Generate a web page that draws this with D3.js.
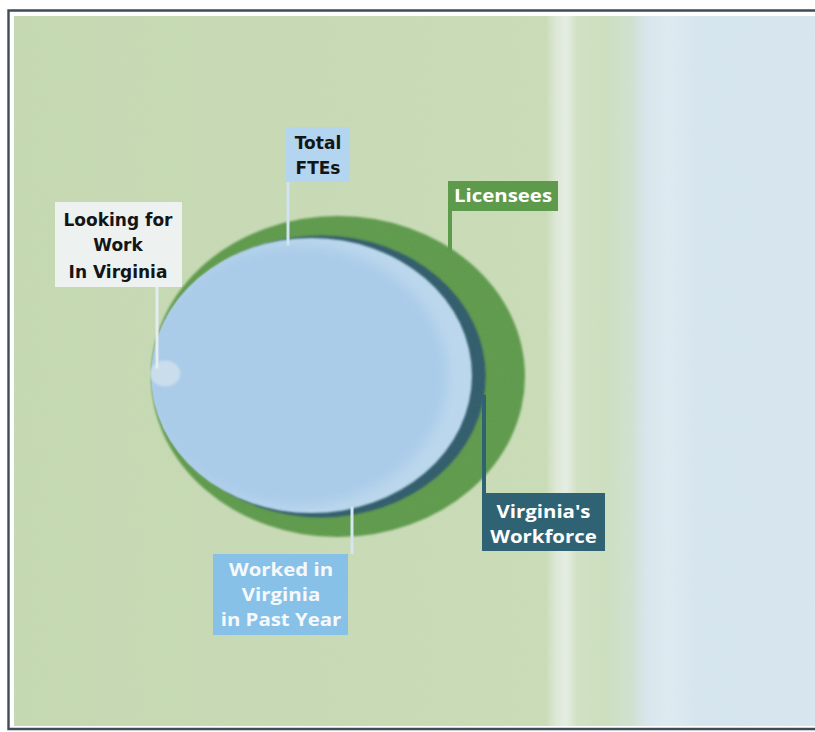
<!DOCTYPE html>
<html>
<head>
<meta charset="utf-8">
<script src="https://cdn.jsdelivr.net/npm/d3@7"></script>
<style>
  html, body { margin: 0; padding: 0; background: #ffffff; }
  svg { display: block; }
</style>
</head>
<body>
<svg id="chart" width="815" height="732"></svg>
<script>
// Nested workforce groups, outermost first; sizes are relative (Licensees = 100)
const groups = ["Licensees", "Virginia's Workforce", "Worked in Virginia in Past Year", "Total FTEs", "Looking for Work in Virginia"];
const relativeSize = [100, 87.9, 85.7, 81.5, 8.1];

// Callout text, one entry per line
const labelLines = {
  "Licensees": ["Licensees"],
  "Virginia's Workforce": ["Virginia's", "Workforce"],
  "Worked in Virginia in Past Year": ["Worked in", "Virginia", "in Past Year"],
  "Total FTEs": ["Total", "FTEs"],
  "Looking for Work in Virginia": ["Looking for", "Work", "In Virginia"]
};

const svg = d3.select("#chart");
const W = 815, H = 732;

// ---------- frame and background ----------
const defs = svg.append("defs");
const bg = defs.append("linearGradient").attr("id", "bgGrad")
  .attr("gradientUnits", "userSpaceOnUse").attr("x1", 14).attr("x2", 815).attr("y1", 0).attr("y2", 0);
[[14, "#c3d7b0"], [300, "#c6d9b3"], [546, "#c8dbb5"], [556, "#dce7d6"], [566, "#e4ece1"],
 [577, "#d0e0c3"], [605, "#cbdebd"], [632, "#cfe0cf"], [646, "#d6e5ec"], [668, "#dde9f0"],
 [700, "#d4e4ed"], [815, "#d6e5ee"]].forEach(([x, c]) => {
  bg.append("stop").attr("offset", ((x - 14) / (815 - 14)) * 100 + "%").attr("stop-color", c);
});

const soft = defs.append("filter").attr("id", "soft").attr("x", "-5%").attr("y", "-5%").attr("width", "110%").attr("height", "110%");
soft.append("feGaussianBlur").attr("stdDeviation", 0.8);

const fade = defs.append("filter").attr("id", "fade").attr("x", "-10%").attr("y", "-10%").attr("width", "120%").attr("height", "120%");
fade.append("feGaussianBlur").attr("stdDeviation", 6);

// fine paper grain, kept inside the shape it is applied to
const grain = defs.append("filter").attr("id", "grain");
grain.append("feTurbulence").attr("type", "fractalNoise").attr("baseFrequency", 0.9).attr("numOctaves", 2).attr("seed", 3).attr("result", "n");
grain.append("feColorMatrix").attr("in", "n").attr("type", "matrix")
  .attr("values", "0 0 0 0 1  0 0 0 0 1  0 0 0 0 1  0 0 0 0.06 0").attr("result", "w");
grain.append("feComposite").attr("in", "w").attr("in2", "SourceAlpha").attr("operator", "in");

svg.append("rect").attr("x", 14).attr("y", 16).attr("width", W - 14).attr("height", 710).attr("fill", "url(#bgGrad)");
svg.append("rect").attr("x", 14).attr("y", 16).attr("width", W - 14).attr("height", 710).attr("fill", "#000").attr("filter", "url(#grain)");
svg.append("path")
  .attr("d", `M${W + 2},10.5 H8.5 V729 H${W + 2}`)
  .attr("fill", "none").attr("stroke", "#3f4c57").attr("stroke-width", 2.4);

// ---------- ellipse geometry ----------
const ry = d3.scaleLinear().domain([0, 100]).range([0, 160.5]);
const aspect = 1.165;       // horizontal stretch of the drawing
const leftEdge = 151;       // rings share a common left edge
const ringStyle = {
  "Licensees": { fill: "#5b9849", dx: 0, cy: 376.5 },
  "Virginia's Workforce": { fill: "#2d5a69", dx: 6, cy: 376.5 },
  "Worked in Virginia in Past Year": { fill: "#b9d6ec", dx: 0.5, cy: 375.5 },
  "Total FTEs": { fill: "#a8cae8", dx: -8, cy: 375.5 },
  "Looking for Work in Virginia": { fill: "#d3e2ed", dx: -1, cy: 373.5 }
};

const rings = groups.map((g, i) => {
  const r = ry(relativeSize[i]);
  const rx = r * aspect;
  const s = ringStyle[g];
  return { name: g, rx, ry: r, cx: leftEdge + s.dx + rx, cy: s.cy, fill: s.fill };
});
const ring = name => rings.find(r => r.name === name);

// y on an ellipse at a given x (top or bottom half)
function ellipseY(e, x, side) {
  const t = (x - e.cx) / e.rx;
  const h = e.ry * Math.sqrt(Math.max(0, 1 - t * t));
  return side === "top" ? e.cy - h : e.cy + h;
}

const worked = ring("Worked in Virginia in Past Year");
defs.append("clipPath").attr("id", "workedClip").append("ellipse")
  .attr("cx", worked.cx).attr("cy", worked.cy).attr("rx", worked.rx).attr("ry", worked.ry);

const gRings = svg.append("g");
rings.slice(0, 3).forEach(e => {
  gRings.append("ellipse").attr("cx", e.cx).attr("cy", e.cy).attr("rx", e.rx).attr("ry", e.ry)
    .attr("fill", e.fill).attr("filter", "url(#soft)");
});
// Total FTEs sits inside the past-year ring, with a soft lighter rim on the right
const fte = ring("Total FTEs");
gRings.append("g").attr("clip-path", "url(#workedClip)")
  .append("ellipse").attr("cx", fte.cx).attr("cy", fte.cy).attr("rx", fte.rx).attr("ry", fte.ry)
  .attr("fill", fte.fill).attr("filter", "url(#fade)");
const look = ring("Looking for Work in Virginia");
gRings.append("ellipse").attr("cx", look.cx).attr("cy", look.cy).attr("rx", look.rx).attr("ry", look.ry)
  .attr("fill", look.fill).attr("opacity", 0.75).attr("filter", "url(#soft)");
// grain over the rings
const lic = ring("Licensees");
gRings.append("ellipse").attr("cx", lic.cx).attr("cy", lic.cy).attr("rx", lic.rx).attr("ry", lic.ry)
  .attr("fill", "#000").attr("filter", "url(#grain)");

// ---------- callouts ----------
const callouts = [
  { name: "Total FTEs", box: [286, 127, 63, 55], fill: "#b3d5ef", text: "#151515", font: "dark",
    lineY: [149, 174], cx: 318, px: 288, pColor: "#cfe3f1", pWidth: 3, from: "bottom", to: "top" },
  { name: "Looking for Work in Virginia", box: [55, 202, 127, 85], fill: "#edf2f1", text: "#151515", font: "dark",
    lineY: [226, 251, 278], cx: 118, px: 157, pColor: "#e3ecef", pWidth: 3, from: "bottom", to: "top" },
  { name: "Licensees", box: [448, 181, 110, 30], fill: "#5d9a4b", text: "#ffffff", font: "light",
    lineY: [202], cx: 503, px: 450, pColor: "#5d9a4b", pWidth: 4, from: "bottom", to: "top" },
  { name: "Virginia's Workforce", box: [482, 493, 123, 58], fill: "#2f6374", text: "#ffffff", font: "light",
    lineY: [518, 543], cx: 543.5, px: 484, pColor: "#2f6374", pWidth: 4, from: "top", to: "bottom" },
  { name: "Worked in Virginia in Past Year", box: [213, 554, 135, 81], fill: "#88c1e8", text: "#f6f9fc", font: "light",
    lineY: [576, 601, 626], cx: 281, px: 352, pColor: "#d5e6f0", pWidth: 3, from: "top", to: "bottom" }
];

const gCall = svg.append("g");
callouts.forEach(c => {
  const [bx, by, bw, bh] = c.box;
  const e = c.name === "Total FTEs" ? worked : ring(c.name);
  const yBox = c.from === "bottom" ? by + bh : by;
  const yRing = ellipseY(e, c.px, c.to) + (c.to === "top" ? 6 : -2);
  gCall.append("line").attr("x1", c.px).attr("x2", c.px).attr("y1", yBox).attr("y2", yRing)
    .attr("stroke", c.pColor).attr("stroke-width", c.pWidth);
  gCall.append("rect").attr("x", bx).attr("y", by).attr("width", bw).attr("height", bh).attr("fill", c.fill);
  labelLines[c.name].forEach((line, i) => {
    const t = gCall.append("text")
      .attr("transform", `translate(${c.cx},${c.lineY[i]}) scale(${c.font === "dark" ? 1 : 1.2},1)`)
      .attr("text-anchor", "middle")
      .attr("fill", c.text)
      .text(line);
    if (c.font === "dark") {
      t.attr("font-family", "'DejaVu Sans', Verdana, sans-serif").attr("font-weight", "bold").attr("font-size", 17);
    } else {
      t.attr("font-family", "'Open Sans', 'Noto Sans', sans-serif").attr("font-weight", 700).attr("font-size", 17);
    }
  });
});
</script>
</body>
</html>
